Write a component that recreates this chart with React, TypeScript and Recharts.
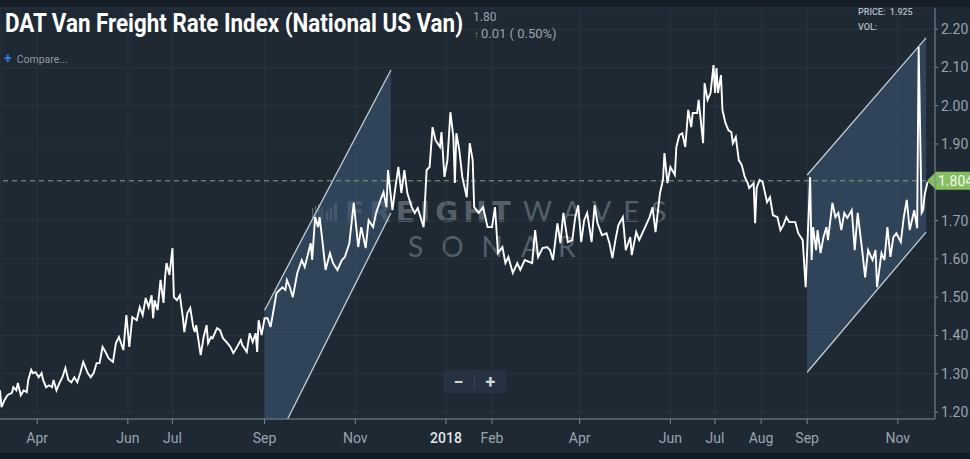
import React from 'react';
import {
    ComposedChart,
    Line,
    Area,
    XAxis,
    YAxis,
    CartesianGrid,
    ReferenceLine
} from 'recharts';

// day numbers counted from 2017-03-01, one value per reading of the index
const days = [
    6, 7, 9, 11, 14, 15, 17, 18, 20, 22,
    24, 25, 27, 28, 30, 32, 34, 35, 37, 39,
    41, 42, 44, 46, 48, 50, 52, 54, 56, 58,
    60, 62, 65, 67, 69, 71, 73, 75, 77, 79,
    82, 84, 86, 89, 91, 93, 95, 98, 100, 102,
    104, 106, 108, 109, 110, 112, 114, 116, 117, 118,
    120, 122, 123, 125, 127, 129, 130, 132, 134, 136,
    137, 138, 141, 143, 145, 146, 148, 149, 152, 154,
    156, 159, 161, 163, 165, 168, 169, 172, 174, 176,
    178, 179, 180, 182, 184, 186, 188, 190, 192, 196,
    198, 199, 201, 203, 206, 209, 211, 215, 216, 218,
    220, 221, 223, 225, 228, 230, 233, 236, 238, 241,
    244, 247, 249, 252, 254, 257, 259, 262, 264, 266,
    267, 270, 272, 274, 276, 278, 280, 283, 285, 287,
    291, 293, 295, 297, 299, 302, 303, 305, 307, 309,
    311, 312, 313, 315, 317, 320, 322, 324, 325, 328,
    331, 334, 337, 339, 341, 344, 346, 348, 351, 354,
    356, 359, 364, 366, 368, 371, 374, 376, 378, 381,
    383, 385, 388, 391, 393, 395, 397, 399, 401, 404,
    406, 408, 411, 414, 416, 418, 420, 422, 425, 427,
    430, 431, 434, 436, 440, 443, 445, 447, 450, 452,
    453, 455, 457, 460, 461, 463, 465, 467, 469, 471,
    472, 475, 476, 479, 480, 482, 484, 486, 487, 488,
    489, 491, 492, 494, 496, 498, 499, 501, 503, 505,
    507, 509, 510, 513, 514, 515, 517, 519, 522, 524,
    526, 529, 531, 533, 535, 537, 541, 543, 546, 548,
    551, 552, 553, 555, 556, 558, 560, 562, 563, 566,
    568, 570, 572, 574, 576, 579, 581, 583, 586, 588,
    590, 593, 595, 596, 599, 601, 603, 605, 607, 609,
    612, 614, 616, 618, 621, 623, 624, 626, 627, 628,
    630
];

const rates = [
    1.257, 1.213, 1.231, 1.244, 1.250, 1.265, 1.257, 1.276, 1.244, 1.257,
    1.252, 1.284, 1.310, 1.302, 1.304, 1.291, 1.302, 1.284, 1.265, 1.270,
    1.265, 1.284, 1.257, 1.276, 1.291, 1.315, 1.284, 1.278, 1.291, 1.278,
    1.302, 1.331, 1.302, 1.291, 1.302, 1.328, 1.328, 1.370, 1.357, 1.341,
    1.331, 1.380, 1.396, 1.362, 1.453, 1.370, 1.448, 1.440, 1.474, 1.453,
    1.498, 1.474, 1.505, 1.445, 1.492, 1.466, 1.545, 1.485, 1.550, 1.589,
    1.558, 1.628, 1.500, 1.492, 1.505, 1.448, 1.409, 1.458, 1.472, 1.422,
    1.409, 1.427, 1.349, 1.396, 1.427, 1.380, 1.396, 1.393, 1.419, 1.414,
    1.393, 1.380, 1.370, 1.354, 1.367, 1.388, 1.375, 1.357, 1.406, 1.383,
    1.406, 1.357, 1.440, 1.401, 1.445, 1.445, 1.422, 1.466, 1.511, 1.526,
    1.519, 1.545, 1.526, 1.500, 1.563, 1.597, 1.579, 1.641, 1.597, 1.709,
    1.683, 1.709, 1.644, 1.571, 1.615, 1.589, 1.571, 1.597, 1.605, 1.641,
    1.746, 1.631, 1.683, 1.628, 1.701, 1.683, 1.720, 1.754, 1.774, 1.735,
    1.832, 1.727, 1.787, 1.840, 1.772, 1.832, 1.772, 1.735, 1.720, 1.733,
    1.683, 1.832, 1.840, 1.944, 1.910, 1.892, 1.931, 1.814, 1.858, 1.983,
    1.918, 1.798, 1.928, 1.884, 1.814, 1.761, 1.902, 1.858, 1.735, 1.720,
    1.735, 1.683, 1.683, 1.735, 1.615, 1.631, 1.589, 1.605, 1.563, 1.589,
    1.571, 1.597, 1.589, 1.675, 1.605, 1.628, 1.631, 1.623, 1.597, 1.693,
    1.641, 1.720, 1.644, 1.649, 1.709, 1.740, 1.644, 1.701, 1.720, 1.644,
    1.740, 1.693, 1.662, 1.667, 1.641, 1.602, 1.649, 1.688, 1.709, 1.623,
    1.657, 1.610, 1.670, 1.649, 1.683, 1.709, 1.735, 1.670, 1.772, 1.806,
    1.876, 1.798, 1.840, 1.819, 1.892, 1.923, 1.928, 1.892, 1.989, 1.944,
    1.981, 1.981, 2.015, 1.902, 2.059, 2.015, 2.033, 2.106, 2.033, 2.098,
    2.033, 2.080, 1.989, 1.955, 1.936, 1.931, 1.902, 1.918, 1.858, 1.845,
    1.814, 1.798, 1.785, 1.798, 1.693, 1.785, 1.806, 1.801, 1.748, 1.761,
    1.714, 1.709, 1.675, 1.688, 1.709, 1.696, 1.696, 1.667, 1.649, 1.526,
    1.814, 1.597, 1.683, 1.623, 1.675, 1.615, 1.657, 1.683, 1.649, 1.746,
    1.709, 1.720, 1.675, 1.720, 1.707, 1.727, 1.623, 1.720, 1.623, 1.552,
    1.623, 1.597, 1.623, 1.526, 1.615, 1.597, 1.683, 1.605, 1.657, 1.667,
    1.644, 1.709, 1.754, 1.675, 1.727, 1.680, 2.153, 1.720, 1.727, 1.767,
    1.801
];

const tickDates = [
    '2017-04-01', '2017-06-01', '2017-07-01', '2017-09-01', '2017-11-01', '2018-01-01',
    '2018-02-01', '2018-04-01', '2018-06-01', '2018-07-01', '2018-08-01', '2018-09-01', '2018-11-01'
];
const tickLabels = ['Apr', 'Jun', 'Jul', 'Sep', 'Nov', '2018', 'Feb', 'Apr', 'Jun', 'Jul', 'Aug', 'Sep', 'Nov'];
const priceTicks = [1.2, 1.3, 1.4, 1.5, 1.6, 1.7, 1.8, 1.9, 2.0, 2.1, 2.2];

// hand drawn trend channels
const channelDays1 = [184, 269];
const channelLow1 = [1.062, 1.72];
const channelHigh1 = [1.466, 2.093];
const channelDays2 = [549, 629];
const channelLow2 = [1.304, 1.67];
const channelHigh2 = [1.819, 2.177];

const lastPrice = 1.804;

const BG = '#1e2934';
const GRID = '#28343f';
const AXIS = '#7d8893';
const LABEL = '#9aa4ae';
const MARK = '#545f6a';

const toDay = (s: string) => Math.round((Date.parse(s) - Date.parse('2017-03-01')) / 86400000);
const tickDays = tickDates.map(toDay);
const labelByDay: Record<number, string> = {};
tickDays.forEach((d, i) => { labelByDay[d] = tickLabels[i]; });

const data = days.slice(0, Math.min(days.length, rates.length)).map((d, i) => ({ day: d, rate: rates[i] }));
const channel1 = channelDays1.map((d, i) => ({ day: d, band: [channelLow1[i], channelHigh1[i]] }));
const channel2 = channelDays2.map((d, i) => ({ day: d, band: [channelLow2[i], channelHigh2[i]] }));

const DateTick = (props: any) => {
    const { x, y, payload } = props;
    const label = labelByDay[payload.value] ?? '';
    const isYear = /^\d{4}$/.test(label);
    return (
        <text
            x={x}
            y={y}
            dy={17}
            textAnchor="middle"
            fontSize={14}
            fontFamily="Roboto, sans-serif"
            fontWeight={isYear ? 500 : 400}
            fill={isYear ? '#e2e6ea' : LABEL}
        >
            {label}
        </text>
    );
};

const PriceTag = (props: any) => {
    const vb = props.viewBox || {};
    const right = vb.x + vb.width;
    const y = vb.y;
    return (
        <g>
            <polygon
                points={`${right - 8},${y} ${right + 1},${y - 9} ${right + 36},${y - 9} ${right + 36},${y + 9} ${right + 1},${y + 9}`}
                fill="#86bf5f"
            />
            <text x={right + 3} y={y} dy="0.36em" fontSize={14} fill="#f3f7ef" fontFamily="Roboto, sans-serif">
                {lastPrice.toFixed(3)}
            </text>
        </g>
    );
};

const Watermark = () => (
    <svg width={970} height={459} style={{ position: 'absolute', left: 0, top: 0 }}>
        <g fill={MARK}>
            <rect x={312} y={208} width={1.5} height={14} />
            <rect x={315} y={206} width={1.5} height={16} />
            <rect x={318} y={204} width={1.5} height={18} />
            <rect x={321} y={206} width={1.5} height={16} />
            <rect x={326} y={211} width={2.5} height={11} />
            <rect x={330} y={208} width={2.5} height={14} />
            <rect x={334} y={203} width={3} height={19} />
        </g>
        <text x={345} y={222} fontFamily="'DejaVu Sans', sans-serif" fontWeight={700} fontSize={28} letterSpacing={5} fill={MARK}>
            FREIGHT
        </text>
        <text x={523} y={222} fontFamily="Lato, sans-serif" fontWeight={400} fontSize={28} letterSpacing={12} fill={MARK}>
            WAVES
        </text>
        <text x={408} y={257} fontFamily="Lato, sans-serif" fontWeight={400} fontSize={28} letterSpacing={18} fill={MARK}>
            SONAR
        </text>
    </svg>
);

export default function App() {
    return (
        <div
            style={{
                position: 'fixed',
                left: 0,
                top: 0,
                width: 970,
                height: 459,
                background: BG,
                overflow: 'hidden',
                fontFamily: 'Roboto, sans-serif'
            }}
        >
            <div style={{ position: 'absolute', left: 0, top: 0, width: 970, height: 7, background: '#161e27' }} />
            <Watermark />

            <div style={{ position: 'absolute', left: 0, top: 0 }}>
                <ComposedChart
                    width={970}
                    height={459}
                    data={data}
                    margin={{ top: 8, right: 0, bottom: 7, left: 0 }}
                >
                    <CartesianGrid stroke={GRID} strokeWidth={1} />
                    <XAxis
                        dataKey="day"
                        type="number"
                        domain={[6, 635]}
                        allowDataOverflow
                        ticks={tickDays}
                        interval={0}
                        height={33}
                        axisLine={{ stroke: AXIS }}
                        tickLine={{ stroke: AXIS }}
                        tickSize={5}
                        tickMargin={2}
                        tick={<DateTick />}
                    />
                    <YAxis
                        orientation="right"
                        type="number"
                        domain={[1.182, 2.255]}
                        allowDataOverflow
                        ticks={priceTicks}
                        interval={0}
                        width={35}
                        axisLine={{ stroke: AXIS }}
                        tickLine={{ stroke: AXIS }}
                        tickSize={3}
                        tickMargin={3}
                        tick={{ fill: LABEL, fontSize: 14, fontFamily: 'Roboto, sans-serif' }}
                        tickFormatter={(v: number) => (Math.abs(v - lastPrice) < 0.02 ? '' : v.toFixed(2))}
                    />
                    <Area
                        data={channel1}
                        dataKey="band"
                        type="linear"
                        stroke="#c5cdd5"
                        strokeWidth={1.3}
                        fill="#3a5573"
                        fillOpacity={0.6}
                        isAnimationActive={false}
                        dot={false}
                        activeDot={false}
                    />
                    <Area
                        data={channel2}
                        dataKey="band"
                        type="linear"
                        stroke="#c5cdd5"
                        strokeWidth={1.3}
                        fill="#3a5573"
                        fillOpacity={0.6}
                        isAnimationActive={false}
                        dot={false}
                        activeDot={false}
                    />
                    <ReferenceLine
                        y={lastPrice}
                        stroke="#8a9e78"
                        strokeDasharray="5 4"
                        label={<PriceTag />}
                    />
                    <Line
                        dataKey="rate"
                        type="linear"
                        stroke="#ffffff"
                        strokeWidth={1.9}
                        dot={false}
                        activeDot={false}
                        isAnimationActive={false}
                    />
                </ComposedChart>
            </div>

            <div
                style={{
                    position: 'absolute',
                    left: 5,
                    top: 9,
                    fontSize: 25,
                    lineHeight: '30px',
                    fontWeight: 700,
                    color: '#ffffff',
                    whiteSpace: 'nowrap',
                    transform: 'scaleX(0.895)',
                    transformOrigin: 'left top'
                }}
            >
                DAT Van Freight Rate Index (National US Van)
            </div>
            <div style={{ position: 'absolute', left: 473, top: 10, fontSize: 12, lineHeight: '14px', color: LABEL }}>
                1.80
            </div>
            <div style={{ position: 'absolute', left: 474, top: 26, fontSize: 13, lineHeight: '16px', color: LABEL, whiteSpace: 'nowrap' }}>
                <span style={{ color: '#7cb342', fontSize: 10, marginRight: 2 }}>↑</span>0.01 ( 0.50%)
            </div>
            <div style={{ position: 'absolute', left: 4, top: 50, fontSize: 10.5, lineHeight: '16px', color: '#8d98a3', whiteSpace: 'nowrap' }}>
                <span style={{ color: '#2f7ed8', fontSize: 14, fontWeight: 700, marginRight: 5 }}>+</span>Compare...
            </div>
            <div style={{ position: 'absolute', left: 858, top: 6, fontSize: 9, lineHeight: '12px', fontWeight: 500, color: '#b4bcc4', whiteSpace: 'nowrap' }}>
                PRICE:&nbsp; 1.925
            </div>
            <div style={{ position: 'absolute', left: 858, top: 21, fontSize: 9, lineHeight: '12px', fontWeight: 500, color: '#b4bcc4' }}>
                VOL:
            </div>

            <div
                style={{
                    position: 'absolute',
                    left: 443,
                    top: 370,
                    width: 63,
                    height: 23,
                    background: '#263241',
                    borderRadius: 3,
                    display: 'flex',
                    alignItems: 'center',
                    color: '#cfd5db',
                    fontWeight: 700,
                    fontSize: 18
                }}
            >
                <div style={{ width: 31, textAlign: 'center', lineHeight: '23px' }}>−</div>
                <div style={{ width: 1, height: 13, background: '#3b4754' }} />
                <div style={{ width: 31, textAlign: 'center', lineHeight: '23px' }}>+</div>
            </div>

            <div style={{ position: 'absolute', left: 0, top: 453, width: 970, height: 6, background: '#151c24' }} />
        </div>
    );
}
